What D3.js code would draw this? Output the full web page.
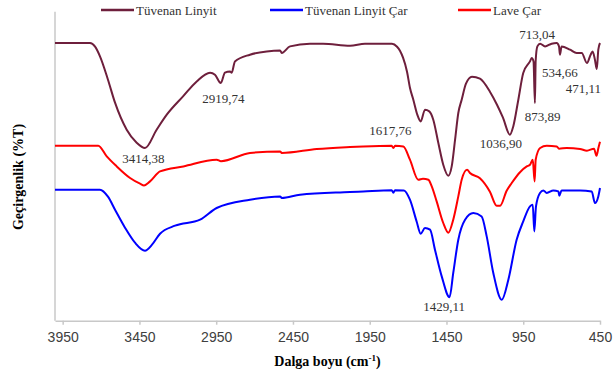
<!DOCTYPE html>
<html>
<head>
<meta charset="utf-8">
<script src="https://cdn.jsdelivr.net/npm/d3@7"></script>
<style>
  body { margin: 0; background: #fff; }
  #chart { width: 613px; height: 376px; }
  .tick-label { font-family: "Liberation Sans", Arial, sans-serif; font-size: 14px; fill: #404040; }
  .axis-title { font-family: "Liberation Serif", "Times New Roman", serif; font-size: 14px; font-weight: bold; fill: #000; }
  .legend-text, .peak-label { font-family: "Liberation Serif", "Times New Roman", serif; font-size: 13px; fill: #333; }
</style>
</head>
<body>
<div id="chart"></div>
<script>
// wavenumber (cm-1) / transmittance (offset units)
const linyitWn = [4000, 3772, 3739, 3707, 3655, 3609, 3533, 3468, 3414, 3338, 3272, 3166, 3077, 2990, 2958, 2920, 2893, 2860, 2849, 2828, 2730, 2621, 2534, 2523, 2469, 2339, 2254, 2078, 1981, 1805, 1772, 1753, 1733, 1707, 1688, 1666, 1640, 1618, 1590, 1562, 1536, 1503, 1471, 1438, 1416, 1394, 1373, 1351, 1323, 1284, 1232, 1167, 1121, 1082, 1037, 1015, 982, 950, 906, 895, 883, 874, 869, 858, 840, 808, 765, 732, 717, 711, 700, 645, 602, 569, 535, 511, 498, 483, 471, 461, 450];
const linyitT = [277.7, 277.7, 274, 264.3, 241, 218, 191, 178, 172.7, 191, 206, 224.3, 239.3, 248, 246, 237.7, 248, 249.3, 248, 259.3, 266, 269.3, 270.3, 267.7, 274.3, 277, 277, 275, 277, 277, 274, 270, 263, 249, 233, 221, 206, 199.3, 211, 209.3, 201, 177.7, 156, 145, 154.3, 181, 207.7, 221, 237, 244, 242, 229, 216, 203, 186, 194.3, 221, 247.7, 259.3, 262.7, 259.3, 217.7, 260, 274.3, 277, 274.3, 277, 277.7, 274.3, 266, 274.3, 271, 267.7, 267.7, 257.7, 266, 269.3, 261, 251.7, 271, 277.7];

const carWn = [4000, 3707, 3655, 3609, 3544, 3479, 3414, 3368, 3316, 3218, 3055, 2947, 2730, 2534, 2523, 2404, 2078, 1992, 1807, 1796, 1785, 1727, 1688, 1644, 1618, 1590, 1557, 1525, 1481, 1430, 1406, 1373, 1329, 1275, 1221, 1188, 1145, 1090, 1047, 993, 950, 906, 888, 878, 867, 841, 819, 797, 754, 721, 715, 700, 580, 504, 483, 461, 450];
const carT = [131, 131, 124, 111, 93, 78, 70, 76, 87, 95, 101, 112.7, 121, 124.3, 122.7, 126, 128.7, 129.3, 130.5, 128, 130.5, 130.3, 121, 99, 87, 92.7, 91, 71, 44.3, 23.5, 47.7, 81, 101, 107.7, 104.3, 84.3, 47.7, 21, 41, 81, 99.3, 114.3, 116, 89.3, 114.3, 127.7, 130.3, 127.7, 130.3, 129.3, 125, 130.3, 130.3, 129.3, 117.7, 124.3, 132.7];

const laveWn = [4000, 3718, 3663, 3598, 3511, 3446, 3420, 3381, 3316, 3164, 2947, 2919, 2730, 2534, 2523, 2295, 2078, 1992, 1807, 1796, 1785, 1731, 1688, 1634, 1603, 1568, 1546, 1514, 1471, 1438, 1406, 1373, 1351, 1316, 1297, 1232, 1167, 1123, 1101, 1058, 1025, 971, 927, 906, 888, 876, 869, 840, 797, 732, 717, 667, 580, 535, 489, 473, 460, 450];
const laveT = [175, 175, 164.3, 154.3, 142.7, 137, 135.3, 139.3, 149.3, 154.3, 161, 159.5, 167.7, 169.3, 167.7, 171.7, 173.7, 174.3, 175, 172.7, 175, 174.3, 161, 141, 142, 141, 134.3, 119.3, 97.7, 88, 101, 124.3, 141, 151, 147.7, 142.5, 129, 115, 115, 130, 137.7, 148.5, 154.3, 156, 161, 139.3, 161, 172.7, 175, 174.3, 172, 172.7, 171.7, 170, 172, 165, 173, 179];

const seriesNames = ["Tüvenan Linyit", "Tüvenan Linyit Çar", "Lave Çar"];
const seriesColors = ["#6e1f3c", "#0000ff", "#ff0000"];
const xTicks = [3950, 3450, 2950, 2450, 1950, 1450, 950, 450];

// peak labels: text, wavenumber and level where the label sits
const peakText = ["3414,38", "2919,74", "1617,76", "1036,90", "713,04", "534,66", "471,11", "873,89", "1429,11"];
const peakWn = [3425, 2904, 1816, 1095, 860, 711, 559, 824, 1466];
const peakT = [162.7, 222.7, 190.3, 177.7, 286, 248.3, 232.7, 204.3, 14];

function renderSpectra(selector) {
    const width = 613, height = 376;
    const plot = {left: 55, right: 600, top: 11.7, bottom: 320.7};

    const svg = d3.select(selector).append("svg")
        .attr("width", width)
        .attr("height", height);

    const x = d3.scaleLinear().domain([4000, 450]).range([plot.left, plot.right]);
    const y = d3.scaleLinear().domain([0, 309]).range([plot.bottom, plot.top]);

    // axes
    svg.append("line")
        .attr("x1", plot.left).attr("x2", plot.left)
        .attr("y1", plot.top).attr("y2", plot.bottom)
        .attr("stroke", "#c8c8c8").attr("stroke-width", 1.5);

    const xAxis = svg.append("g")
        .attr("transform", `translate(0, ${plot.bottom})`)
        .call(d3.axisBottom(x).tickValues(xTicks).tickSize(4).tickSizeOuter(0).tickPadding(7).tickFormat(d3.format("d")));
    xAxis.select(".domain").attr("stroke", "#c8c8c8").attr("stroke-width", 1.5);
    xAxis.selectAll(".tick line").attr("stroke", "#c8c8c8").attr("stroke-width", 1.5);
    xAxis.selectAll(".tick text").attr("class", "tick-label").attr("fill", null);

    const xTitle = svg.append("text")
        .attr("class", "axis-title")
        .attr("x", (plot.left + plot.right) / 2)
        .attr("y", 366)
        .attr("text-anchor", "middle");
    xTitle.append("tspan").text("Dalga boyu (cm");
    xTitle.append("tspan").attr("baseline-shift", "super").attr("font-size", "9px").text("-1");
    xTitle.append("tspan").text(")");

    svg.append("text")
        .attr("class", "axis-title")
        .attr("transform", "translate(23, 177) rotate(-90)")
        .attr("text-anchor", "middle")
        .text("Geçirgenlik (%T)");

    // spectra
    const series = [
        linyitWn.map((w, i) => [w, linyitT[i]]),
        carWn.map((w, i) => [w, carT[i]]),
        laveWn.map((w, i) => [w, laveT[i]])
    ];
    const line = d3.line()
        .x(d => x(d[0]))
        .y(d => y(d[1]))
        .curve(d3.curveMonotoneX);

    svg.selectAll(".spectrum")
        .data(series)
        .enter()
        .append("path")
        .attr("class", "spectrum")
        .attr("d", line)
        .attr("fill", "none")
        .attr("stroke", (d, i) => seriesColors[i])
        .attr("stroke-width", 2)
        .attr("stroke-linejoin", "round");

    // peak labels
    svg.selectAll(".peak-label")
        .data(peakText)
        .enter()
        .append("text")
        .attr("class", "peak-label")
        .attr("x", (d, i) => x(peakWn[i]))
        .attr("y", (d, i) => y(peakT[i]))
        .attr("dy", "0.35em")
        .attr("text-anchor", "middle")
        .text(d => d);

    // legend
    const legendX = [101, 270, 458];
    const legend = svg.selectAll(".legend")
        .data(seriesNames)
        .enter()
        .append("g")
        .attr("transform", (d, i) => `translate(${legendX[i]}, 10)`);
    legend.append("line")
        .attr("x1", 0).attr("x2", 33)
        .attr("stroke", (d, i) => seriesColors[i])
        .attr("stroke-width", 2.5);
    legend.append("text")
        .attr("class", "legend-text")
        .attr("x", 35)
        .attr("dy", "0.35em")
        .text(d => d);
}

renderSpectra("#chart");
</script>
</body>
</html>
